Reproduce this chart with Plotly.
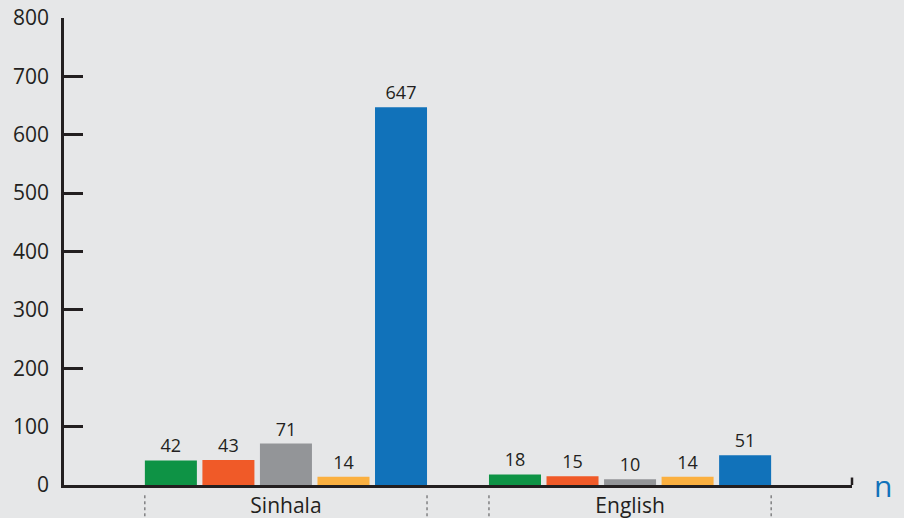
import plotly.graph_objects as go

categories = ["Sinhala", "English"]
series_names = ["Series 1", "Series 2", "Series 3", "Series 4", "Series 5"]
series_values = [
    [42, 18],
    [43, 15],
    [71, 10],
    [14, 14],
    [647, 51],
]
colors = ["#0E9345", "#F05A28", "#939598", "#FBB040", "#1172BA"]
y_ticks = [0, 100, 200, 300, 400, 500, 600, 700, 800]

BARGAP = 0.164
BARGROUPGAP = 0.096
INK = "#231F20"
BG = "#E6E7E8"
FONT = "Open Sans, Lato, sans-serif"

fig = go.Figure()
for name, vals, col in zip(series_names, series_values, colors):
    fig.add_trace(go.Bar(
        x=categories, y=vals, name=name, marker_color=col,
        marker_line_width=0,
        text=[str(v) for v in vals], textposition="outside",
        textfont=dict(size=18, color=INK, family=FONT),
        cliponaxis=False,
    ))

shapes = []
slot = (1 - BARGAP) / len(series_values)
half = (1 - BARGAP) / 2 - slot * BARGROUPGAP / 2
for i, _ in enumerate(categories):
    for xx in (i - half, i + half):
        shapes.append(dict(type="line", xref="x", yref="paper",
                           x0=xx, x1=xx, y0=-0.022, y1=-0.075,
                           line=dict(color="#4D4D4F", width=1, dash="dot")))
# small end tick at right of x axis
shapes.append(dict(type="line", xref="paper", yref="paper", x0=1, x1=1,
                   y0=0, y1=0.016, line=dict(color=INK, width=2.5)))

fig.update_layout(
    width=904, height=518,
    margin=dict(l=64, r=52, t=18, b=33, autoexpand=False),
    paper_bgcolor=BG, plot_bgcolor=BG,
    barmode="group", bargap=BARGAP, bargroupgap=BARGROUPGAP,
    showlegend=False,
    font=dict(family=FONT, color=INK),
    shapes=shapes,
    annotations=[dict(text="n", xref="paper", yref="paper", x=1.026, y=0,
                      xanchor="left", yanchor="middle", showarrow=False,
                      font=dict(size=30, color="#1172BA", family=FONT))],
)
fig.update_xaxes(
    type="category", range=[-0.645, 1.645], automargin=False,
    showline=True, linecolor=INK, linewidth=2.5,
    showgrid=False, ticks="", tickfont=dict(size=21, color=INK),
    ticklabelstandoff=0, zeroline=False,
)
fig.update_yaxes(
    range=[0, 800], tickvals=y_ticks, ticktext=[str(t) for t in y_ticks],
    automargin=False,
    showline=True, linecolor=INK, linewidth=2.5,
    showgrid=False, zeroline=False,
    ticks="inside", ticklen=19, tickwidth=2.5, tickcolor=INK,
    tickfont=dict(size=21, color=INK), ticklabelstandoff=8,
)

fig.write_html(
    "out.html",
    config={"displayModeBar": False},
    post_script="document.body.style.margin='0';document.body.style.overflow='hidden';",
)
